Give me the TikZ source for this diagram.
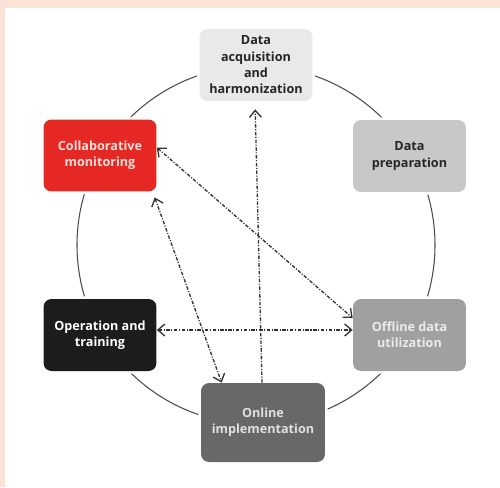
\documentclass[tikz,border=0pt]{standalone}
\usepackage{fontspec}
\setmainfont{Open Sans}
\usetikzlibrary{arrows.meta}

\definecolor{paper}{RGB}{252,227,215}
\definecolor{ring}{RGB}{75,75,75}
\definecolor{acqgray}{RGB}{233,233,233}
\definecolor{prepgray}{RGB}{200,200,200}
\definecolor{offgray}{RGB}{160,160,160}
\definecolor{onlgray}{RGB}{104,104,104}
\definecolor{opblack}{RGB}{28,28,28}
\definecolor{collabred}{RGB}{230,40,36}
\definecolor{lightpink}{RGB}{250,222,216}

\begin{document}
\begin{tikzpicture}
	[x=0.02cm, y=-0.02cm,
	 box/.style={rounded corners=1.6mm, align=center, minimum width=2.26cm, minimum height=1.44cm,
	   font=\fontsize{7.2}{9.3}\selectfont\bfseries, preaction={draw=white, line width=3pt}},
	 link/.style={black!80, line width=0.75pt, dash pattern=on 2pt off 0.9pt on 0.6pt off 0.9pt,
	   >={Straight Barb[length=1.4mm,width=2.4mm]}}]
	% page and ring
	\fill[paper] (0,0) rectangle (500,487);
	\fill[white] (5,8) rectangle (500,487);
	\coordinate (hub) at (256,245);
	\draw[ring, line width=0.6pt] (hub) circle [radius=179];
	% the six stages
	\node[box, fill=acqgray, text=black!85] (acq) at (256,65) {Data\\acquisition\\and\\harmonization};
	\node[box, fill=prepgray, text=black!85] (prep) at (409.5,156) {Data\\preparation};
	\node[box, fill=collabred, text=lightpink] (collab) at (100,155.5) {Collaborative\\monitoring};
	\node[box, fill=opblack, text=white] (op) at (100,335) {Operation and\\training};
	\node[box, fill=offgray, text=white!92!black] (off) at (409.5,335) {Offline data\\utilization};
	\node[box, fill=onlgray, text=white!88!black, minimum width=2.48cm, minimum height=1.58cm] (onl) at (263,422.5) {Online\\implementation};
	% feedback links
	\draw[link, ->, shorten >=0.16cm] ([xshift=-0.02cm]onl.north) -- ([xshift=-0.02cm]acq.south);
	\draw[link, <->] ([yshift=0.16cm]collab.east) -- ([yshift=0.34cm]off.west);
	\draw[link, <->, shorten <=0.12cm] ([xshift=2.19cm]collab.south west) -- ([xshift=0.42cm]onl.north west);
	\draw[link, <->] ([yshift=0.1cm]op.east) -- ([yshift=0.1cm]off.west);
\end{tikzpicture}
\end{document}
